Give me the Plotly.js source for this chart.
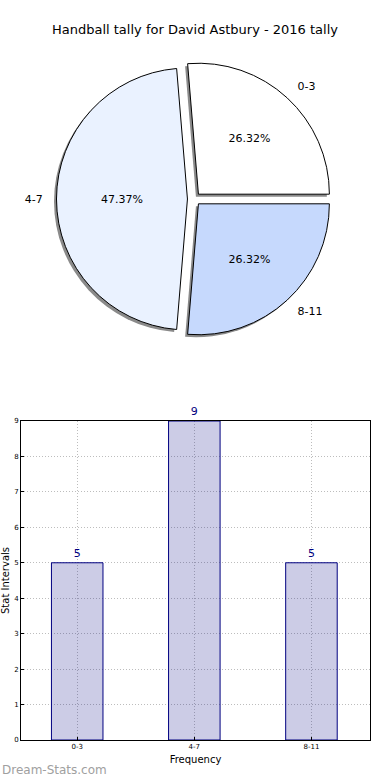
<!DOCTYPE html>
<html>
<head>
<meta charset="utf-8">
<script src="https://cdn.plot.ly/plotly-3.0.1.min.js"></script>
<style>html,body{margin:0;padding:0;background:#fff;}#chart{width:390px;height:780px;}</style>
</head>
<body>
<div id="chart"></div>
<script>
const categories = ["0-3", "4-7", "8-11"];
const tallies = [5, 9, 5];
const pieColors = ["#ffffff", "#eaf2ff", "#c6d9fd"];
const titleText = "Handball tally for David Astbury - 2016 tally";
const yTicks = [0, 1, 2, 3, 4, 5, 6, 7, 8, 9];

const font = "DejaVu Sans, sans-serif";
const pull = [0.05, 0.05, 0.05];
const labelPull = [0.13, 0.13, 0.13];
const rot = -4.74;
// pie geometry in pixels
const cx = 194, cy = 199, halfMain = 137.5;
const r0 = halfMain / 1.05;
const halfLabel = r0 * 1.13;
function dom(half, dx, dy) {
  return {x: [(cx - half + dx) / 390, (cx + half + dx) / 390],
          y: [(780 - cy - half - dy) / 780, (780 - cy + half - dy) / 780]};
}

const traces = [
  {
    type: "pie", labels: categories, values: tallies, sort: false,
    direction: "counterclockwise", rotation: rot, pull: pull,
    domain: dom(halfMain, -2.5, 2.5),
    marker: {colors: ["#8a8a8a","#8a8a8a","#8a8a8a"], line: {width: 0}},
    textinfo: "none", hoverinfo: "skip", showlegend: false
  },
  {
    type: "pie", labels: categories, values: tallies, sort: false,
    direction: "counterclockwise", rotation: rot, pull: pull,
    domain: dom(halfMain, 0, 0),
    marker: {colors: pieColors, line: {color: "#000", width: 1}},
    texttemplate: "%{percent:.2%}", textposition: "inside", insidetextorientation: "horizontal",
    textfont: {family: font, size: 11, color: "#000"},
    showlegend: false
  },
  {
    type: "pie", labels: categories, values: tallies, sort: false,
    direction: "counterclockwise", rotation: rot, pull: labelPull,
    domain: dom(halfLabel, 0, 0),
    marker: {colors: ["rgba(0,0,0,0)","rgba(0,0,0,0)","rgba(0,0,0,0)"], line: {width: 0}},
    texttemplate: "%{label}", textposition: "outside", automargin: false,
    textfont: {family: font, size: 11, color: "#000"},
    outsidetextfont: {family: font, size: 11, color: "#000"},
    showlegend: false, hoverinfo: "skip"
  },
  {
    type: "bar", x: categories, y: tallies, width: 0.44,
    marker: {color: "rgba(0,0,128,0.2)", line: {color: "#000080", width: 1}},
    text: tallies.map(String), textposition: "outside",
    textfont: {family: font, size: 11, color: "#000080"},
    cliponaxis: false, showlegend: false, xaxis: "x", yaxis: "y"
  }
];

const layout = {
  width: 390, height: 780,
  margin: {l: 0, r: 0, t: 0, b: 0},
  paper_bgcolor: "#fff", plot_bgcolor: "#fff",
  font: {family: font, color: "#000"},
  title: {text: titleText, font: {family: font, size: 13, color: "#000"}, x: 0.5, xanchor: "center", y: 0.962, yanchor: "middle"},
  xaxis: {
    domain: [21/390, 370/390], anchor: "y",
    range: [-0.48, 2.5], type: "category",
    showline: true, linecolor: "#000", linewidth: 1, mirror: true,
    showgrid: true, gridcolor: "#bdbdbd", griddash: "1px,2px", gridwidth: 1,
    ticks: "inside", ticklen: 3, tickcolor: "#000",
    tickfont: {family: font, size: 7, color: "#000"},
    title: {text: "Frequency", font: {family: font, size: 10, color: "#000"}, standoff: 5},
    zeroline: false, fixedrange: true
  },
  yaxis: {
    domain: [40/780, 359/780], anchor: "x",
    range: [0, 9], tickvals: yTicks,
    showline: true, linecolor: "#000", linewidth: 1, mirror: true,
    showgrid: true, gridcolor: "#bdbdbd", griddash: "1px,2px", gridwidth: 1,
    ticks: "inside", ticklen: 3, tickcolor: "#000",
    tickfont: {family: font, size: 7, color: "#000"},
    title: {text: "Stat Intervals", font: {family: font, size: 10, color: "#000"}, standoff: 3},
    zeroline: false, fixedrange: true
  },
  annotations: [
    {text: "Dream-Stats.com", xref: "paper", yref: "paper", x: 0, y: 10/780, xanchor: "left", yanchor: "middle",
     showarrow: false, font: {family: font, size: 12, color: "#a0a0a0"}}
  ]
};

Plotly.newPlot("chart", traces, layout, {displayModeBar: false, staticPlot: true});
</script>
</body>
</html>
